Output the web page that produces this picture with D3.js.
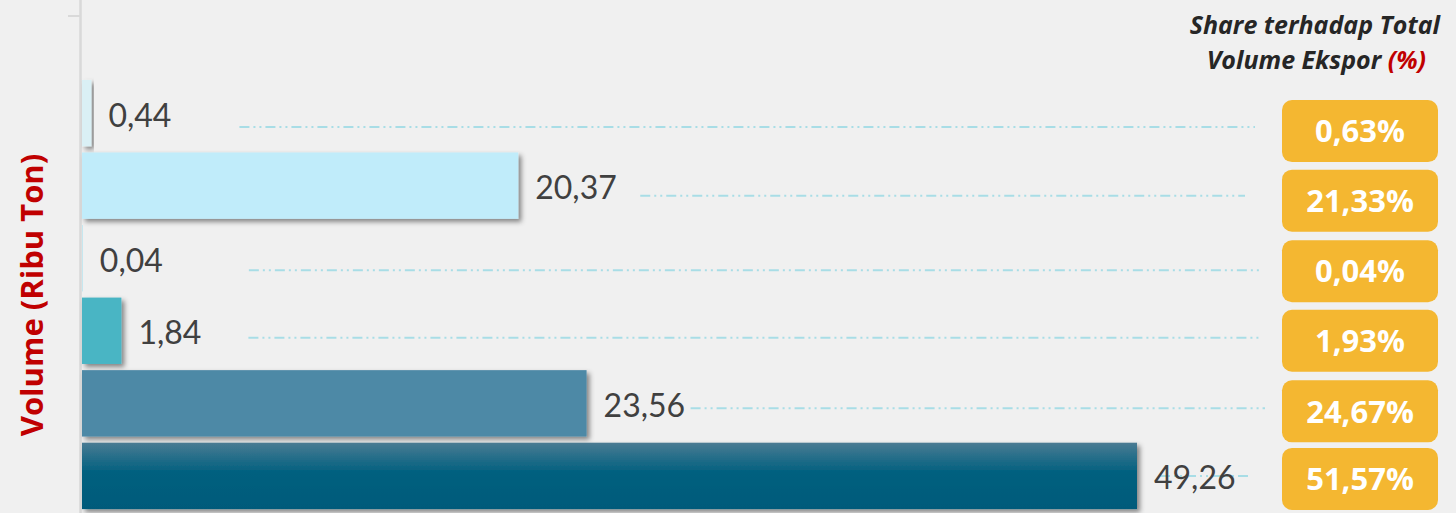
<!DOCTYPE html>
<html><head><meta charset="utf-8">
<script src="https://cdn.jsdelivr.net/npm/d3@7"></script>
<style>html,body{margin:0;padding:0;background:#f0f0f0;}svg{display:block;}</style>
</head><body><div id="chart"></div>
<script>
const categories = ["K1","K2","K3","K4","K5","K6"];
const volumes = [0.44, 20.37, 0.04, 1.84, 23.56, 49.26];
const volumeLabels = ["0,44","20,37","0,04","1,84","23,56","49,26"];
const shares = ["0,63%","21,33%","0,04%","1,93%","24,67%","51,57%"];
const barColors = ["#daf0f5","#c0ecfa","#bfe6ef","#4ab5c4","#4d89a6","url(#gradDark)"];

const W = 1456, H = 513;
const svg = d3.select("#chart").append("svg").attr("width", W).attr("height", H);
const defs = svg.append("defs");
const g1 = defs.append("linearGradient").attr("id","gradDark").attr("x1",0).attr("y1",0).attr("x2",0).attr("y2",1);
g1.append("stop").attr("offset","0%").attr("stop-color","#4a7b93");
g1.append("stop").attr("offset","45%").attr("stop-color","#00607f");
g1.append("stop").attr("offset","100%").attr("stop-color","#005a7a");
const f = defs.append("filter").attr("id","sh").attr("x","-10%").attr("y","-20%").attr("width","130%").attr("height","150%");
f.append("feDropShadow").attr("dx",3).attr("dy",3).attr("stdDeviation",2.5).attr("flood-color","#000").attr("flood-opacity",0.45);

svg.append("rect").attr("width",W).attr("height",H).attr("fill","#f0f0f0");

const x0 = 82;
const x = d3.scaleLinear().domain([0, 49.26]).range([x0, 1137]);
const y = d3.scaleBand().domain(categories).range([77, 512]).paddingInner(0.085).paddingOuter(0.04);
const cy = d => y(d) + y.bandwidth()/2;

// axis line
svg.append("line").attr("x1",80.5).attr("x2",80.5).attr("y1",0).attr("y2",H).attr("stroke","#d9d9d9").attr("stroke-width",2.5);
svg.append("line").attr("x1",68).attr("x2",80).attr("y1",16).attr("y2",16).attr("stroke","#d9d9d9").attr("stroke-width",2);

// leader lines
const leadGap = [148,122,166,127,104,23];
const leadEnd = [1255,1245,1262,1262,1265,1248];
const leadDy = [14,10,12,7,5,0];
svg.selectAll(".lead").data(categories).join("line")
  .attr("class","lead")
  .attr("x1",(d,i)=>x(volumes[i])+leadGap[i])
  .attr("x2",(d,i)=>leadEnd[i])
  .attr("y1",(d,i)=>cy(d)+leadDy[i])
  .attr("y2",(d,i)=>cy(d)+leadDy[i])
  .attr("stroke","#a8dde6").attr("stroke-width",2)
  .attr("stroke-dasharray","10 4 2 4 2 4");

// bars
svg.selectAll(".bar").data(categories).join("rect")
  .attr("class","bar")
  .attr("x",x0)
  .attr("y",d=>y(d))
  .attr("width",(d,i)=>Math.max(0, x(volumes[i])-x0))
  .attr("height",y.bandwidth())
  .attr("fill",(d,i)=>barColors[i])
  .attr("filter",(d,i)=> volumes[i]>0.1 ? "url(#sh)" : null);

// value labels
svg.selectAll(".val").data(categories).join("text")
  .attr("class","val")
  .attr("x",(d,i)=>x(volumes[i])+17)
  .attr("y",d=>cy(d)+2)
  .attr("dy","0.36em")
  .attr("font-family","Lato, 'Open Sans', sans-serif")
  .attr("font-size",32)
  .attr("fill","#404040")
  .text((d,i)=>volumeLabels[i]);

// share boxes
const bx = 1282, bw = 156, bh = 62;
const boxDy = [18,15,13,10,8,3];
svg.selectAll(".box").data(categories).join("rect")
  .attr("class","box")
  .attr("x",bx).attr("y",(d,i)=>cy(d) - bh/2 + boxDy[i])
  .attr("width",bw).attr("height",bh).attr("rx",10)
  .attr("fill","#f4b731");
svg.selectAll(".shr").data(categories).join("text")
  .attr("class","shr")
  .attr("x",bx+bw/2)
  .attr("y",(d,i)=>cy(d) + boxDy[i])
  .attr("dy","0.36em")
  .attr("text-anchor","middle")
  .attr("font-family","'Open Sans', sans-serif")
  .attr("font-weight","bold")
  .attr("font-size",31)
  .attr("fill","#ffffff")
  .text((d,i)=>shares[i]);

// share title (two separate lines)
const titleFont = {family:"'Open Sans', sans-serif", size:25};
svg.append("text").attr("text-anchor","end")
  .attr("font-family",titleFont.family).attr("font-weight","bold").attr("font-style","italic")
  .attr("font-size",titleFont.size).attr("fill","#262626")
  .attr("x",1440).attr("y",34).text("Share terhadap Total");
const t2 = svg.append("text").attr("text-anchor","end")
  .attr("font-family",titleFont.family).attr("font-weight","bold").attr("font-style","italic")
  .attr("font-size",titleFont.size).attr("fill","#262626")
  .attr("x",1426).attr("y",69);
t2.append("tspan").text("Volume Ekspor ");
t2.append("tspan").attr("fill","#c00000").text("(%)");

// y title
svg.append("text")
  .attr("transform","translate(43,295) rotate(-90)")
  .attr("text-anchor","middle")
  .attr("font-family","'Open Sans', sans-serif").attr("font-weight","bold")
  .attr("font-size",31).attr("fill","#c00000")
  .text("Volume (Ribu Ton)");
</script></body></html>
